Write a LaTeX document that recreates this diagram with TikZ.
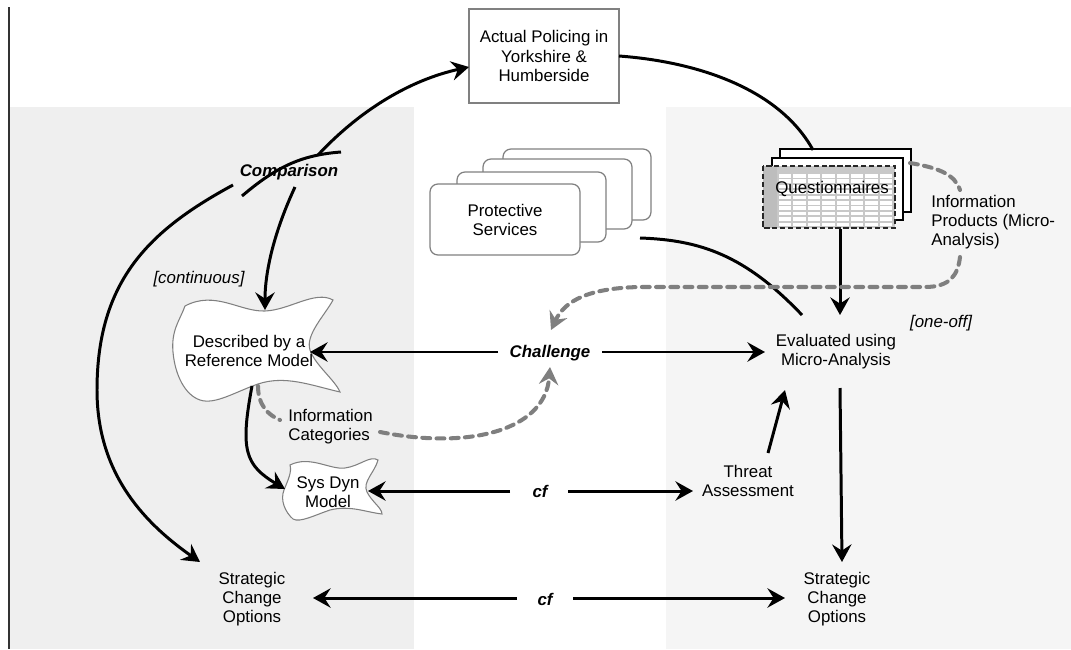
\documentclass[tikz,border=0pt]{standalone}
\usepackage{fontspec}
\setmainfont{Liberation Sans}
\usetikzlibrary{arrows.meta}
\definecolor{panelL}{HTML}{EFEFEF}
\definecolor{panelR}{HTML}{F5F5F5}
\definecolor{boxgray}{HTML}{808080}
\definecolor{dashgray}{HTML}{7F7F7F}
\definecolor{gridgray}{HTML}{C8C8C8}
\definecolor{colgray}{HTML}{BDBDBD}
\begin{document}
\begin{tikzpicture}[x=0.02cm,y=-0.02cm,
  every node/.style={font=\fontsize{9.6}{10.9}\selectfont, align=center, inner sep=0pt},
  arr/.style={line width=1.7pt, -{Stealth[length=10pt,width=11pt,inset=3.5pt]}},
  plain/.style={line width=1.7pt},
  dsh/.style={line width=2.3pt, dashgray, dash pattern=on 4.5pt off 3.6pt, line cap=round},
  dsharr/.style={dsh, -{Stealth[length=10pt,width=11pt,inset=3.5pt]}},
  blob/.style={draw=boxgray, line width=0.6pt, fill=white},
  stack/.style={draw=boxgray, line width=0.7pt, fill=white, rounded corners=0.16cm},
  page/.style={draw=black, line width=0.7pt, fill=white},
  lbl/.style={font=\fontsize{9.6}{10.9}\selectfont\bfseries\itshape},
  note/.style={font=\fontsize{9.6}{10.9}\selectfont\itshape}]
\useasboundingbox (0,0) rectangle (1071,649);
% panels
\fill[panelL] (10,107) rectangle (414,649);
\fill[panelR] (666,107) rectangle (1071,649);
\draw[line width=0.6pt, black!80] (9,7) -- (9,649);

% Actual policing
\node[draw=boxgray, line width=0.7pt, fill=white, minimum width=3cm, minimum height=1.88cm] (act) at (544,56) {Actual Policing in\\Yorkshire \&\\Humberside};

% Protective services stack
\draw[stack] (503,149) rectangle (651,220);
\draw[stack] (483,159) rectangle (632,229);
\draw[stack] (457,172) rectangle (606,242);
\draw[stack] (430,184) rectangle (580,255);
\node (prot) at (505,220) {Protective\\Services};

% Questionnaires stack
\draw[page] (780,149) rectangle (911,212);
\draw[page] (772,158) rectangle (903,220);
\fill[gridgray] (763,166) rectangle (895,228);
\fill[colgray] (763,166) rectangle (777,228);
\foreach \i in {0,...,7}{
  \foreach \j in {0,...,9}{
    \fill[white] ({779+\i*14.4},{174+\j*5.4}) rectangle ({779+\i*14.4+12.4},{174+\j*5.4+3.6});
  }
}
\draw[black!85, line width=0.6pt, dash pattern=on 3pt off 1.5pt] (763,166) rectangle (895,228);
\node (quest) at (832,189) {Questionnaires};

% blobs
\draw[blob] (185,306) .. controls (215,290) and (240,312) .. (265,311)
  .. controls (290,310) and (315,290) .. (333,300)
  .. controls (325,315) and (305,335) .. (310,350)
  .. controls (315,365) and (335,380) .. (340,392)
  .. controls (310,385) and (285,375) .. (258,384)
  .. controls (235,392) and (215,405) .. (200,400)
  .. controls (185,395) and (175,375) .. (173,352)
  .. controls (171,330) and (180,320) .. (185,306) -- cycle;
\node (ref) at (249,351) {Described by a\\Reference Model};

\draw[blob] (290,465) .. controls (310,455) and (330,470) .. (345,468)
  .. controls (360,466) and (370,455) .. (378,460)
  .. controls (375,472) and (362,482) .. (367,492)
  .. controls (372,502) and (382,508) .. (382,514)
  .. controls (365,512) and (350,505) .. (330,510)
  .. controls (315,515) and (300,523) .. (293,519)
  .. controls (285,512) and (280,500) .. (284,490)
  .. controls (288,480) and (292,472) .. (290,465) -- cycle;
\node (sys) at (328,492) {Sys Dyn\\Model};

% text nodes
\node[lbl] (comp) at (289,172) {Comparison};
\node[note] (cont) at (199,279) {[continuous]};
\node[align=left, anchor=west] (infocat) at (288,427) {Information\\Categories};
\node[lbl] (chal) at (550,353) {Challenge};
\node (eval) at (836,352) {Evaluated using\\Micro-Analysis};
\node[note] (oneoff) at (941,323) {[one-off]};
\node[align=left, anchor=west] (infoprod) at (931,222) {Information\\Products (Micro-\\Analysis)};
\node (threat) at (748,481) {Threat\\Assessment};
\node[lbl] (cf1) at (540,491) {cf};
\node[lbl] (cf2) at (545,599) {cf};
\node (sco1) at (252,599) {Strategic\\Change\\Options};
\node (sco2) at (837,599) {Strategic\\Change\\Options};

% named end points
\coordinate (actIn) at (469,67);
\coordinate (actOut) at (619,56);
\coordinate (questTop) at (813,150);
\coordinate (questBot) at (840,229);
\coordinate (questR) at (910,163);
\coordinate (evalTop) at (840,315);
\coordinate (evalTL) at (802,315);
\coordinate (evalL) at (765,352);
\coordinate (evalB) at (785,390);
\coordinate (evalBot) at (840,388);
\coordinate (protR) at (640,238);
\coordinate (compA) at (233,185);
\coordinate (compB) at (242,196);
\coordinate (compJ) at (318,155);
\coordinate (compE) at (341,152);
\coordinate (compD) at (295,187);
\coordinate (refTop) at (265,310);
\coordinate (refR) at (310,352);
\coordinate (refBot) at (252,386);
\coordinate (refBotD) at (258,386);
\coordinate (sysL) at (285,489);
\coordinate (sysR) at (368,491);
\coordinate (chalL) at (498,352);
\coordinate (chalR) at (602,352);
\coordinate (chalTop) at (551,330);
\coordinate (chalBot) at (550,367);
\coordinate (icIn) at (280,420);
\coordinate (icOut) at (380,432);
\coordinate (ipIn) at (960,190);
\coordinate (ipOut) at (960,257);
\coordinate (cf1L) at (510,491);
\coordinate (cf1R) at (568,491);
\coordinate (thrL) at (693,491);
\coordinate (thrTop) at (768,453);
\coordinate (cf2L) at (517,598);
\coordinate (cf2R) at (573,598);
\coordinate (sco1R) at (313,598);
\coordinate (sco1Top) at (200,562);
\coordinate (sco2L) at (785,598);
\coordinate (sco2Top) at (842,562);

% connectors
\draw[arr] (compJ) .. controls (360,110) and (410,80) .. (actIn);
\draw[plain] (compB) .. controls (275,168) and (300,155) .. (compE);
\draw[plain] (actOut) .. controls (700,62) and (780,90) .. (questTop);
\draw[arr] (compD) .. controls (275,230) and (265,270) .. (refTop);
\draw[arr] (compA) .. controls (150,230) and (97,280) .. (97,390)
  .. controls (97,470) and (140,520) .. (sco1Top);
\draw[arr] (refBot) .. controls (240,450) and (245,465) .. (sysL);
\draw[plain] (protR) .. controls (700,240) and (745,255) .. (evalTL);
\draw[arr] (questBot) -- (evalTop);
\draw[arr] (chalL) -- (refR);
\draw[arr] (chalR) -- (evalL);
\draw[arr] (thrTop) -- (evalB);
\draw[arr] (evalBot) -- (sco2Top);
\draw[arr] (cf1L) -- (sysR);
\draw[arr] (cf1R) -- (thrL);
\draw[arr] (cf2L) -- (sco1R);
\draw[arr] (cf2R) -- (sco2L);

% dashed information flows
\draw[dsh] (refBotD) .. controls (258,405) and (268,415) .. (icIn);
\draw[dsharr] (icOut) .. controls (470,450) and (545,430) .. (chalBot);
\draw[dsh] (questR) .. controls (940,168) and (955,175) .. (ipIn);
\draw[dsharr] (ipOut) .. controls (958,275) and (950,287) .. (925,287)
  -- (640,287) .. controls (590,288) and (565,300) .. (chalTop);
\end{tikzpicture}
\end{document}
